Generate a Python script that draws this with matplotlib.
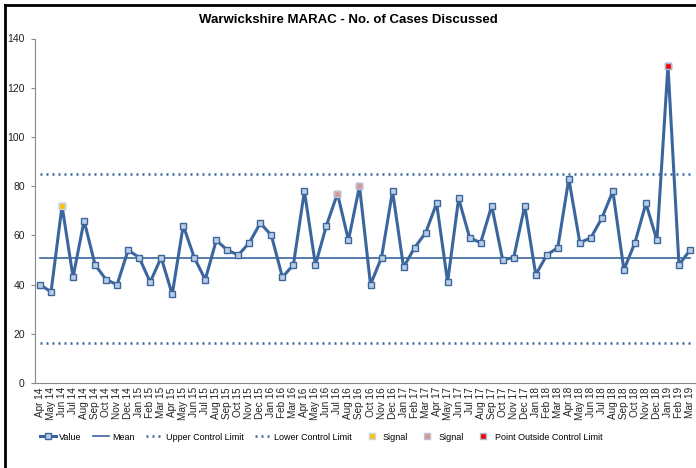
import numpy as np
import matplotlib
matplotlib.use("Agg")
from matplotlib import pyplot as plt
from matplotlib.lines import Line2D

# months Apr 14 .. Mar 19
years = ["14", "15", "16", "17", "18", "19"]
monthNames = ["Apr", "May", "Jun", "Jul", "Aug", "Sep", "Oct", "Nov", "Dec", "Jan", "Feb", "Mar"]
months = []
for i in range(60):
    m = monthNames[i % 12]
    y = years[(i + 3) // 12]
    months.append(m + " " + y)

values = [40, 37, 72, 43, 66, 48, 42, 40, 54, 51,
          41, 51, 36, 64, 51, 42, 58, 54, 52, 57,
          65, 60, 43, 48, 78, 48, 64, 77, 58, 80,
          40, 51, 78, 47, 55, 61, 73, 41, 75, 59,
          57, 72, 50, 51, 72, 44, 52, 55, 83, 57,
          59, 67, 78, 46, 57, 73, 58, 129, 48, 54]

mean = 50.6
ucl = 84.8
lcl = 16.3

signalA = ["Jun 14"]
signalB = ["Jul 16", "Sep 16"]
outside = ["Jan 19"]

blue = "#3B669D"
fill = "#B9CDE5"

plt.rcParams['font.family'] = ['Liberation Sans', 'DejaVu Sans']

fig = plt.figure(figsize=(6.96, 4.68), dpi=100)
ax = fig.add_axes([34.5 / 696, 1 - 383 / 468, 661 / 696, (383 - 38.5) / 468])

x = np.arange(len(values))
ax.plot(x, values, color=blue, lw=2.2, marker="s", ms=4.5, mfc=fill, mec=blue, mew=1,
        label="Value", zorder=4)
ax.plot(x, [mean] * len(x), color=blue, lw=1.2, label="Mean", zorder=3)
ax.plot(x, [ucl] * len(x), color=blue, lw=1.8, ls=(0, (0.8, 1.6)), label="Upper Control Limit", zorder=3)
ax.plot(x, [lcl] * len(x), color=blue, lw=1.8, ls=(0, (0.8, 1.6)), label="Lower Control Limit", zorder=3)

def pick(names):
    idx = [months.index(n) for n in names]
    return idx, [values[i] for i in idx]

ia, va = pick(signalA)
ib, vb = pick(signalB)
io, vo = pick(outside)
ax.plot(ia, va, ls="none", marker="s", ms=5, mfc="#FFC000", mec="#C9D5E6", mew=1, label="Signal", zorder=5)
ax.plot(ib, vb, ls="none", marker="s", ms=5, mfc="#D99694", mec="#B9C4D8", mew=1, label="Signal", zorder=5)
ax.plot(io, vo, ls="none", marker="s", ms=5, mfc="#FF0000", mec="#A9BBD6", mew=1,
        label="Point Outside Control Limit", zorder=5)

ax.set_xlim(-0.5, len(values) - 0.5)
ax.set_ylim(0, 140)
ax.set_yticks(range(0, 141, 20))
ax.set_xticks(x)
ax.set_xticklabels(months, rotation=90, fontsize=7.2, color="#222222")
ax.tick_params(axis="x", length=0, pad=3)
ax.tick_params(axis="y", labelsize=7.5, length=3, color="#888888", labelcolor="#222222", pad=4)
for s in ["top", "right"]:
    ax.spines[s].set_visible(False)
ax.spines["left"].set_color("#888888")
ax.spines["bottom"].set_color("#888888")

fig.text(0.5, 1 - 20 / 468, "Warwickshire MARAC - No. of Cases Discussed", ha="center", va="center",
         fontsize=9.5, fontweight="bold")

fig.legend(loc="center left", bbox_to_anchor=(40 / 696, 1 - 437 / 468), ncol=7, frameon=False,
           fontsize=6.5, handlelength=1.8, columnspacing=1.25, handletextpad=0.35,
           borderaxespad=0, borderpad=0)

# chart frame (left and top edges visible)
fig.add_artist(Line2D([4.5 / 696, 4.5 / 696], [0, 1 - 4.5 / 468], color="black", lw=2))
fig.add_artist(Line2D([4.5 / 696, 1], [1 - 4.5 / 468, 1 - 4.5 / 468], color="black", lw=2))

fig.savefig("out.png", dpi=100)
